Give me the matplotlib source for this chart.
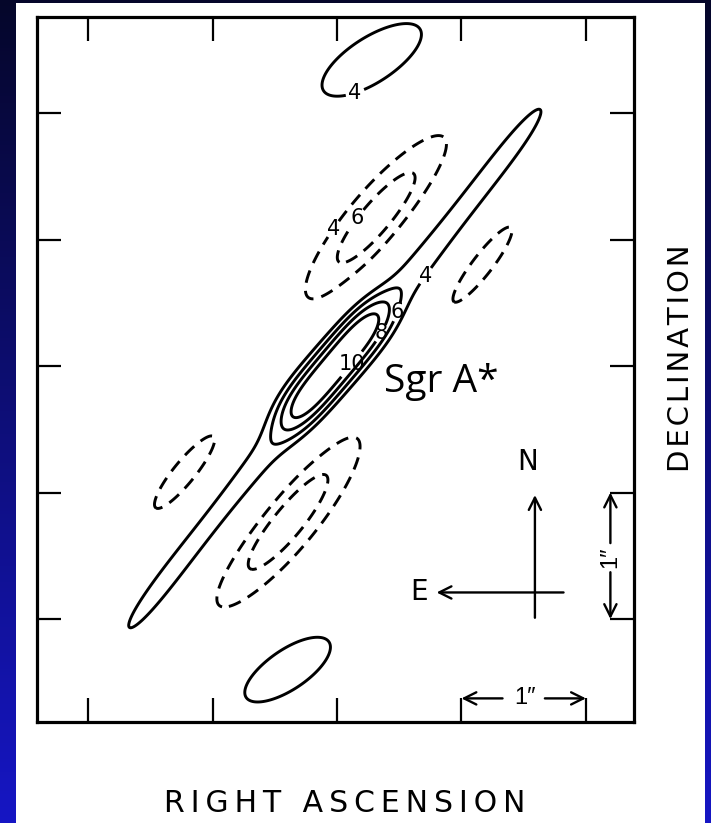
import numpy as np
import matplotlib
matplotlib.use("Agg")
import matplotlib.pyplot as plt
from matplotlib.patches import Rectangle
from matplotlib.transforms import offset_copy

# ---------------- data: source model components (arcsec offsets from Sgr A*) -------------
comp_names = ["core", "halo", "ridge", "neg_upper", "neg_lower",
              "neg_right", "neg_left", "lobe_top", "lobe_bottom"]
comp_x0 = [-0.03, -0.03, -0.022, 0.31, -0.39, 1.16, -1.21, 0.28, -0.40]
comp_y0 = [0.01, 0.01, -0.027, 1.15, -1.21, 0.81, -0.84, 2.42, -2.40]
comp_amp = [7.0, 1.0, 5.0, -7.5, -7.5, -5.4, -5.4, 5.0, 5.0]
comp_smaj = [0.55, 1.2, 2.94, 0.80, 0.82, 0.56, 0.55, 0.686, 0.60]
comp_smin = [0.147, 0.40, 0.15, 0.21, 0.21, 0.13, 0.14, 0.27, 0.24]
comp_pmaj = [4, 2, 8, 2, 2, 2, 2, 2, 2]
comp_pa = [50.0, 50.0, 51.3, 49.6, 50.3, 51.8, 50.0, 32.0, 33.0]

contour_levels = [-6, -4, 4, 6, 8, 10]
tick_positions = [-2, -1, 0, 1, 2]
x_limits = (-2.41, 2.386)
y_limits = (-2.814, 2.759)

# contour labels: level and anchor position (data coords)
label_levels = [4, 4, 6, 8, 10, -4, -6]
label_pos = [(0.145, 2.16), (0.68, 0.735), (0.44, 0.44), (0.28, 0.30),
             (0.05, 0.07), (-0.04, 1.09), (0.17, 1.17)]

# ---------------- field ----------------
gx = np.linspace(x_limits[0] - 0.1, x_limits[1] + 0.1, 700)
gy = np.linspace(y_limits[0] - 0.1, y_limits[1] + 0.1, 800)
X, Y = np.meshgrid(gx, gy)
Z = np.zeros_like(X)
for x0, y0, a, sa, sb, pm, pa in zip(comp_x0, comp_y0, comp_amp, comp_smaj,
                                     comp_smin, comp_pmaj, comp_pa):
    t = np.deg2rad(pa)
    u = (X - x0) * np.cos(t) + (Y - y0) * np.sin(t)
    v = -(X - x0) * np.sin(t) + (Y - y0) * np.cos(t)
    Z += a * np.exp(-0.5 * (np.abs(u / sa) ** pm + (v / sb) ** 2))

# ---------------- figure & background ----------------
W, H = 711, 823
fig = plt.figure(figsize=(W / 100, H / 100), dpi=100)
bg = fig.add_axes([0, 0, 1, 1], zorder=-10)
grad = np.linspace(0, 1, 256)[:, None, None]
c_top = np.array([5, 6, 42]) / 255
c_bot = np.array([22, 22, 196]) / 255
bg.imshow(c_top + (c_bot - c_top) * grad, aspect="auto", extent=[0, 1, 0, 1], origin="upper")
bg.add_patch(Rectangle((16 / W, 0), (705 - 16) / W, (H - 3) / H,
                       transform=bg.transAxes, facecolor="white", edgecolor="none", zorder=2))
bg.set_xlim(0, 1); bg.set_ylim(0, 1)
bg.axis("off")

ax = fig.add_axes([37 / W, (H - 722) / H, (634 - 37) / W, (722 - 17) / H])
ax.set_facecolor("none")
ax.set_xlim(*x_limits)
ax.set_ylim(*y_limits)

dash = (0, (4.4, 2.8))
for lev in contour_levels:
    cs = ax.contour(X, Y, Z, levels=[lev], colors="k", linewidths=2.1,
                    linestyles=[dash if lev < 0 else "solid"])
    pts = [p for l, p in zip(label_levels, label_pos) if l == lev]
    if pts:
        labs = ax.clabel(cs, inline=True, fontsize=15,
                         fmt=lambda l: f"{abs(int(round(l)))}", manual=pts, inline_spacing=3)
        for t in labs:
            t.set_rotation(0)
            t.set_fontfamily("DejaVu Sans")

# frame & ticks
for s in ax.spines.values():
    s.set_linewidth(2.3)
ax.set_xticks(tick_positions)
ax.set_yticks(tick_positions)
ax.tick_params(direction="in", length=17, width=1.6, top=True, right=True,
               labelleft=False, labelbottom=False)

# scale brackets
arrow = dict(arrowstyle="->", lw=1.7, color="k", shrinkA=0, shrinkB=0, mutation_scale=22)
tb = offset_copy(ax.get_xaxis_transform(), fig=fig, x=0, y=17, units="points")
ax.annotate("", xy=(1.0, 0), xytext=(1.33, 0), xycoords=tb, textcoords=tb, arrowprops=arrow)
ax.annotate("", xy=(2.0, 0), xytext=(1.67, 0), xycoords=tb, textcoords=tb, arrowprops=arrow)
ax.text(1.51, 0, "1\u2033", transform=tb, ha="center", va="center", fontsize=17,
        family="Liberation Sans")
tr = offset_copy(ax.get_yaxis_transform(), fig=fig, x=-17, y=0, units="points")
ax.annotate("", xy=(1, -1.0), xytext=(1, -1.40), xycoords=tr, textcoords=tr, arrowprops=arrow)
ax.annotate("", xy=(1, -2.0), xytext=(1, -1.63), xycoords=tr, textcoords=tr, arrowprops=arrow)
ax.text(1, -1.51, "1\u2033", transform=tr, ha="center", va="center", fontsize=17,
        rotation=90, family="Liberation Sans")

# compass
ax.annotate("", xy=(1.59, -1.02), xytext=(1.59, -1.99), arrowprops=arrow)
ax.annotate("", xy=(0.80, -1.79), xytext=(1.82, -1.79), arrowprops=arrow)
ax.text(1.53, -0.76, "N", ha="center", va="center", fontsize=20, family="DejaVu Sans")
ax.text(0.66, -1.79, "E", ha="center", va="center", fontsize=20, family="DejaVu Sans")

ax.text(0.84, -0.13, "Sgr A*", ha="center", va="center", fontsize=28, family="Open Sans")

sp = "\u2009"
fig.text(345 / W, (H - 804) / H, sp.join("RIGHT ASCENSION"), ha="center", va="center",
         fontsize=21.5, family="DejaVu Sans")
fig.text(681 / W, (H - 358) / H, "\u200a".join("DECLINATION"), ha="center", va="center",
         rotation=90, fontsize=21, family="DejaVu Sans")

fig.savefig("out.png", dpi=100)
